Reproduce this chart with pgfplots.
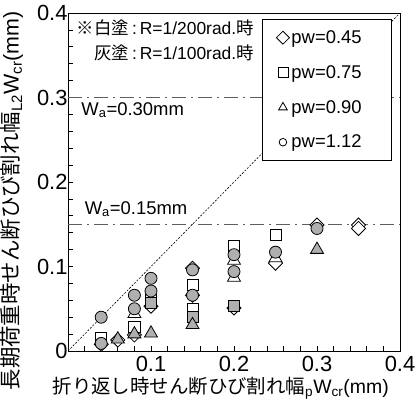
\documentclass[border=0pt]{standalone}
\usepackage{pgfplots}
\pgfplotsset{compat=1.18}
\usepackage{fontspec}
\setmainfont{Liberation Sans}
\newfontfamily\jp{Noto Sans CJK JP}
\usetikzlibrary{calc}
\definecolor{fillg}{RGB}{175,175,175}
\definecolor{lineg}{RGB}{95,95,95}
\begin{document}
\begin{tikzpicture}
\pgfplotsset{
  wd/.style={only marks, forget plot, mark=square*, mark size=5bp, mark options={rotate=45,fill=white,draw=black,line width=0.8bp,solid}},
  gd/.style={only marks, forget plot, mark=square*, mark size=5bp, mark options={rotate=45,fill=fillg,draw=black,line width=0.8bp,solid}},
  ws/.style={only marks, forget plot, mark=square*, mark size=5.6bp, mark options={fill=white,draw=black,line width=0.8bp,solid}},
  gs/.style={only marks, forget plot, mark=square*, mark size=5.6bp, mark options={fill=fillg,draw=black,line width=0.8bp,solid}},
  wt/.style={only marks, forget plot, mark=triangle*, mark size=7.5bp, mark options={fill=white,draw=black,line width=0.8bp,solid}},
  gt/.style={only marks, forget plot, mark=triangle*, mark size=7.5bp, mark options={fill=fillg,draw=black,line width=0.8bp,solid}},
  wc/.style={only marks, forget plot, mark=*, mark size=6bp, mark options={fill=white,draw=black,line width=0.8bp,solid}},
  gc/.style={only marks, forget plot, mark=*, mark size=6bp, mark options={fill=fillg,draw=black,line width=0.8bp,solid}},
}
\begin{axis}[
  scale only axis, width=332bp, height=338bp,
  xmin=0, xmax=0.4, ymin=0, ymax=0.4,
  xtick={0,0.1,0.2,0.3,0.4}, xticklabels={,0.1,0.2,0.3,0.4},
  ytick={0,0.1,0.2,0.3,0.4}, yticklabels={0,0.1,0.2,0.3,0.4},
  minor tick num=4,
  tick align=inside, major tick length=5bp, minor tick length=5bp,
  xtick pos=lower, ytick pos=left,
  tick style={black, line width=0.7bp},
  axis line style={black, line width=0.9bp},
  tick label style={font=\fontsize{22}{22}\selectfont},
  xticklabel style={yshift=-2bp},
  yticklabel style={xshift=3bp},
  /pgf/number format/assume math mode=true,
  every axis y label/.style={at={(axis description cs:-0.169,0.444)}, rotate=90, anchor=center, font=\fontsize{21.5}{21.5}\selectfont},
  every axis x label/.style={at={(axis description cs:0.46,-0.109)}, anchor=center, font=\fontsize{19.5}{19.5}\selectfont},
  ylabel={{\jp 長期荷重時せん断ひび割れ幅}\textsubscript{L2}W\textsubscript{cr}(mm)},
  xlabel={{\jp 折り返し時せん断ひび割れ幅}\textsubscript{p}W\textsubscript{cr}(mm)},
  legend style={at={(axis description cs:0.976,0.982)}, anchor=north east, draw=black, line width=0.8bp, fill=white,
    font=\fontsize{18.5}{18.5}\selectfont, row sep=16.5bp, inner xsep=14bp, inner ysep=9bp},
  legend cell align=left,
]
\coordinate (sw) at (rel axis cs:0,0);
\coordinate (ne) at (rel axis cs:1,1);

\addlegendimage{only marks, mark=square, mark size=4.6bp, mark options={rotate=45,draw=black,line width=0.8bp}}
\addlegendentry{pw=0.45\rule{14bp}{0pt}}
\addlegendimage{only marks, mark=square, mark size=5bp, mark options={draw=black,line width=0.8bp}}
\addlegendentry{pw=0.75\rule{14bp}{0pt}}
\addlegendimage{only marks, mark=triangle, mark size=5bp, mark options={draw=black,line width=0.8bp}}
\addlegendentry{pw=0.90\rule{14bp}{0pt}}
\addlegendimage{only marks, mark=o, mark size=3.8bp, mark options={draw=black,line width=0.8bp}}
\addlegendentry{pw=1.12\rule{14bp}{0pt}}

% reference lines
\addplot[forget plot, black, line width=0.6bp, dash pattern=on 2bp off 1.5bp] coordinates {(0,0) (0.4,0.4)};
\addplot[forget plot, lineg, line width=1.2bp, dash pattern=on 14bp off 5bp on 2bp off 5bp] coordinates {(0,0.3) (0.4,0.3)};
\addplot[forget plot, lineg, line width=1.2bp, dash pattern=on 14bp off 5bp on 2bp off 5bp] coordinates {(0,0.15) (0.4,0.15)};

% white (R=1/200)
\addplot[wd] coordinates {(0.04,0.008) (0.06,0.013) (0.08,0.019) (0.1,0.053) (0.15,0.066) (0.2,0.051) (0.25,0.104) (0.3,0.149) (0.35,0.149) (0.35,0.145)};
\addplot[ws] coordinates {(0.04,0.015) (0.08,0.029) (0.1,0.060) (0.15,0.078) (0.15,0.050) (0.2,0.124) (0.25,0.137)};
\addplot[wt] coordinates {(0.08,0.044) (0.2,0.107) (0.2,0.087) (0.25,0.110)};

% grey (R=1/100)
\addplot[gd] coordinates {(0.15,0.098)};
\addplot[gs] coordinates {(0.1,0.057) (0.15,0.040) (0.2,0.053)};
\addplot[gt] coordinates {(0.06,0.014) (0.08,0.020) (0.1,0.021) (0.15,0.031) (0.3,0.120)};
\addplot[gc] coordinates {(0.04,0.040) (0.04,0.009) (0.08,0.066) (0.08,0.050) (0.1,0.086) (0.1,0.071) (0.15,0.096) (0.15,0.066) (0.2,0.114) (0.2,0.094) (0.25,0.117) (0.3,0.145)};

% annotations
\node[anchor=west, font=\fontsize{18.5}{18.5}\selectfont] at (axis cs:0.012,0.285) {W\textsubscript{a}=0.30mm};
\node[anchor=west, font=\fontsize{18.5}{18.5}\selectfont] at (axis cs:0.016,0.168) {W\textsubscript{a}=0.15mm};
\node[anchor=east, align=right, font=\fontsize{17.5}{25}\selectfont] at (axis cs:0.228,0.368)
  {{\jp ※白塗}\,:\,R=1/200rad.{\jp 時}\\{\jp 灰塗}\,:\,R=1/100rad.{\jp 時}};
\end{axis}
\pgfresetboundingbox
\path ($(sw)+(-68bp,-52bp)$) rectangle ($(ne)+(17bp,13bp)$);
\end{tikzpicture}
\end{document}
